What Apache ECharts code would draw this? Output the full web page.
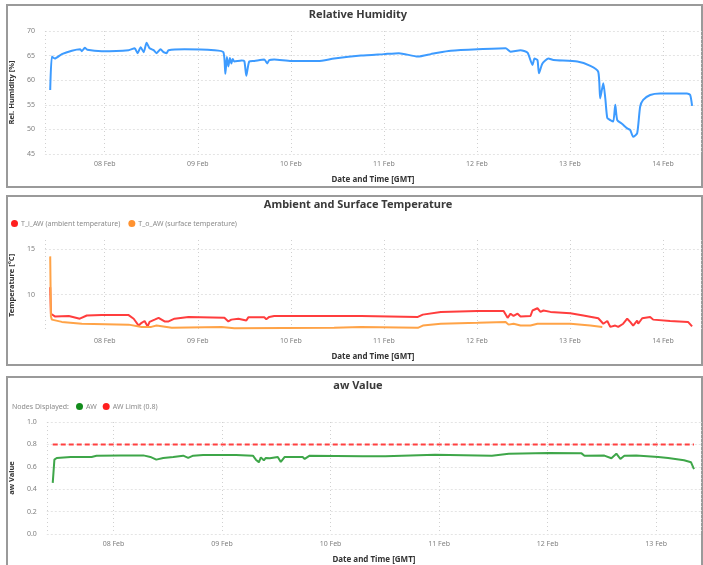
<!DOCTYPE html>
<html><head><meta charset="utf-8">
<script src="https://cdn.jsdelivr.net/npm/echarts@6/dist/echarts.min.js"></script>
<style>html,body{margin:0;padding:0;background:#fff}#c{width:703px;height:565px}</style>
</head><body><div id="c"></div>
<script>
// ---- Relative humidity (day-of-Feb HH:mm) ----
const rhTime = ['07 09:56','07 10:22','07 11:08','07 12:56','07 15:31','07 17:40','07 18:05','07 18:52','07 19:30','07 23:14','08 06:10','08 07:43','08 08:29','08 09:16','08 10:02','08 10:48','08 11:34','08 12:36','08 13:22','08 14:24','08 15:10','08 15:57','08 16:28','08 20:35','09 04:17','09 06:36','09 07:07','09 07:30','09 07:53','09 08:17','09 08:40','09 09:00','09 09:26','09 11:14','09 12:00','09 12:31','09 13:17','09 14:35','09 17:09','09 17:55','09 18:26','09 19:43','10 00:06','10 07:02','10 11:10','10 18:06','11 00:00','11 03:52','11 08:46','11 12:06','11 13:54','11 17:15','12 00:11','12 07:24','12 08:41','12 11:15','12 13:03','12 14:20','12 14:51','12 15:37','12 16:00','12 16:54','12 18:27','12 19:44','13 01:54','13 05:16','13 07:18','13 07:48','13 08:36','13 09:07','13 09:38','13 10:24','13 11:10','13 11:41','13 12:12','13 13:29','13 14:46','13 15:32','13 16:18','13 17:20','13 18:06','13 18:53','13 20:41','13 23:15','14 06:12','14 07:00','14 07:30'];
const rhValue = [58.0,64.8,64.4,65.3,66.0,66.3,65.9,66.6,66.2,65.9,66.1,66.5,65.5,66.7,65.7,67.6,66.5,66.1,65.5,66.3,65.7,65.5,66.1,66.3,66.1,65.7,61.3,64.7,62.8,64.5,63.4,64.3,63.8,64.0,63.9,60.9,63.8,63.9,64.2,63.4,64.1,64.2,63.9,63.9,64.4,65.0,65.3,65.5,64.8,65.3,65.6,66.0,66.3,66.5,65.8,66.1,65.6,63.1,64.4,64.1,61.4,63.4,64.4,64.1,63.8,62.9,61.7,56.3,59.4,56.3,52.3,51.9,51.6,55.0,51.9,51.1,50.2,49.9,48.5,49.2,54.6,56.0,57.0,57.3,57.3,57.0,54.8];

// ---- Ambient temperature T_i_AW ----
const tiTime = ['07 09:56','07 10:07','07 11:08','07 14:44','07 17:34','07 19:22','07 23:14','08 06:10','08 07:28','08 08:45','08 09:31','08 10:17','08 11:04','08 11:34','08 12:52','08 13:53','08 15:26','08 16:28','08 18:00','08 21:36','09 06:52','09 07:53','09 08:40','09 10:28','09 12:31','09 13:02','09 17:09','09 17:40','09 18:26','09 19:43','10 18:06','11 08:46','11 10:03','11 14:41','12 00:11','12 06:53','12 07:55','12 08:41','12 09:27','12 10:29','12 11:15','12 13:49','12 14:20','12 15:37','12 16:24','12 17:10','12 18:58','13 00:06','13 03:27','13 07:18','13 08:36','13 09:38','13 10:24','13 11:41','13 12:27','13 13:44','13 14:46','13 15:32','13 16:18','13 17:20','13 17:36','13 18:38','13 20:41','13 21:28','14 01:50','14 06:27','14 07:30'];
const tiValue = [10.8,7.9,7.6,7.65,7.35,7.7,7.75,7.75,7.35,6.6,6.9,7.1,6.5,7.0,7.25,7.45,7.05,7.05,7.35,7.55,7.45,7.05,7.25,7.35,7.15,7.5,7.5,7.3,7.55,7.65,7.65,7.55,7.8,8.1,8.2,8.2,7.45,7.9,7.65,7.9,7.6,7.65,8.25,8.5,8.1,8.25,8.1,7.95,7.7,7.4,6.8,7.1,6.45,6.6,6.45,6.8,7.35,7.0,6.6,7.15,6.8,7.4,7.55,7.25,7.1,7.0,6.5];

// ---- Surface temperature T_o_AW ----
const toTime = ['07 09:56','07 10:07','07 10:22','07 12:56','07 18:05','08 06:10','08 09:31','08 12:00','08 13:22','08 17:17','09 06:07','09 09:26','10 11:10','10 18:06','11 08:46','11 10:03','11 14:41','12 00:11','12 07:24','12 08:10','12 09:27','12 11:15','12 13:49','12 15:37','13 00:06','13 05:16','13 08:20'];
const toValue = [14.2,7.6,7.25,7.0,6.8,6.7,6.45,6.45,6.6,6.35,6.45,6.3,6.35,6.45,6.35,6.6,6.8,6.9,7.0,6.7,6.8,6.6,6.6,6.8,6.8,6.6,6.45];

// ---- aw value ----
const awTime = ['07 10:34','07 10:56','07 11:27','07 14:32','07 19:10','07 19:36','07 20:15','08 01:32','08 06:36','08 08:09','08 09:28','08 11:00','08 13:13','08 15:25','08 16:31','08 17:37','08 19:49','09 03:05','09 06:50','09 07:29','09 08:09','09 08:35','09 09:15','09 09:41','09 10:34','09 12:20','09 13:00','09 13:52','09 17:50','09 18:17','09 19:23','10 07:03','10 12:07','10 23:07','11 11:41','11 15:25','12 00:14','12 07:30','12 08:09','12 12:33','12 14:06','12 15:12','12 16:05','12 16:58','12 19:36','13 00:27','13 02:39','13 06:10','13 07:43','13 08:22'];
const awValue = [0.457,0.664,0.679,0.688,0.688,0.68,0.699,0.702,0.702,0.688,0.664,0.679,0.688,0.699,0.679,0.699,0.705,0.705,0.699,0.664,0.640,0.684,0.658,0.679,0.676,0.688,0.643,0.688,0.688,0.670,0.699,0.695,0.695,0.708,0.699,0.717,0.723,0.72,0.699,0.70,0.676,0.717,0.67,0.699,0.70,0.688,0.679,0.658,0.64,0.58];
const awLimitTime = ['07 10:34','13 08:22'];
const awLimitValue = [0.8,0.8];

// ---- axis settings ----
const rhTicks = [45,50,55,60,65,70];
const tempTicks = [10,15];
const awTicks = [0,0.2,0.4,0.6,0.8,1.0];
const xRange12 = ['07 08:34','14 09:48'];
const xRange3 = ['07 09:15','13 09:55'];

const MONTHS = ['Jan','Feb','Mar','Apr','May','Jun','Jul','Aug','Sep','Oct','Nov','Dec'];
function ts(s){const d=+s.slice(0,2),h=+s.slice(3,5),m=+s.slice(6,8);return new Date(2023,1,d,h,m).getTime();}
function pairs(t,v){return t.map((s,i)=>[ts(s),v[i]]);}
const FONT = '"Noto Sans", "Open Sans", sans-serif';
const DAY = 86400000;

function xAxis(idx, range){
  return {
    type:'time', gridIndex:idx, min:ts(range[0]), max:ts(range[1]),
    minInterval:DAY, maxInterval:DAY,
    axisLine:{show:false}, axisTick:{show:false},
    axisLabel:{fontSize:7, color:'#808080', fontFamily:FONT, margin:6, hideOverlap:false,
      showMinLabel:false, showMaxLabel:false,
      formatter:function(v){const d=new Date(v);return String(d.getDate()).padStart(2,'0')+' '+MONTHS[d.getMonth()];}},
    splitLine:{show:true, lineStyle:{color:'#d0d0d0', type:[1,3], width:1}},
    name:'Date and Time [GMT]', nameLocation:'middle', nameGap:22,
    nameTextStyle:{fontSize:8, fontWeight:'bold', color:'#333', fontFamily:FONT}
  };
}
function yName(n){return {name:n, nameLocation:'middle', nameGap:23, nameTextStyle:{fontSize:7.5, fontWeight:'bold', color:'#333', fontFamily:FONT}};}
const yLabel = {fontSize:7, color:'#808080', fontFamily:FONT, margin:10};
const ySplit = {show:true, lineStyle:{color:'#e4e4e4', type:[2,2], width:1}};
const titleStyle = {fontSize:11, fontWeight:'bold', color:'#3a3a3a', fontFamily:FONT};

const option = {
  animation:false,
  textStyle:{fontFamily:FONT},
  graphic:[
    {type:'rect', shape:{x:7,y:5,width:695,height:182}, style:{fill:'none', stroke:'#9a9a9a', lineWidth:2}},
    {type:'rect', shape:{x:7,y:196,width:695,height:169}, style:{fill:'none', stroke:'#9a9a9a', lineWidth:2}},
    {type:'rect', shape:{x:7,y:377,width:695,height:200}, style:{fill:'none', stroke:'#9a9a9a', lineWidth:2}},
    {type:'text', left:12, top:403, style:{text:'Nodes Displayed:', fontSize:7, fill:'#8a8a8a', fontFamily:FONT}}
  ],
  title:[
    {text:'Relative Humidity', left:358, top:9, padding:[0,0,0,0], textAlign:'center', textStyle:titleStyle},
    {text:'Ambient and Surface Temperature', left:358, top:199, padding:[0,0,0,0], textAlign:'center', textStyle:titleStyle},
    {text:'aw Value', left:358, top:380, padding:[0,0,0,0], textAlign:'center', textStyle:titleStyle}
  ],
  legend:[
    {left:11, top:220, padding:0, icon:'circle', itemWidth:7, itemHeight:7, itemGap:8,
      textStyle:{fontSize:7, color:'#8a8a8a', fontFamily:FONT, padding:[0,0,0,-2]},
      data:['T_i_AW (ambient temperature)','T_o_AW (surface temperature)']},
    {left:76, top:403, padding:0, icon:'circle', itemWidth:7, itemHeight:7, itemGap:6,
      textStyle:{fontSize:7, color:'#8a8a8a', fontFamily:FONT, padding:[0,0,0,-2]},
      data:['AW','AW Limit (0.8)']}
  ],
  grid:[
    {left:43, right:2, top:31, height:123},
    {left:43, right:2, top:240, height:91},
    {left:43, right:2, top:422, height:113}
  ],
  xAxis:[xAxis(0,xRange12), xAxis(1,xRange12), xAxis(2,xRange3)],
  yAxis:[
    Object.assign({type:'value', gridIndex:0, min:rhTicks[0], max:rhTicks[rhTicks.length-1], interval:5,
      axisLine:{show:false}, axisTick:{show:false}, axisLabel:yLabel, splitLine:ySplit}, yName('Rel. Humidity [%]')),
    Object.assign({type:'value', gridIndex:1, min:6, max:16,
      axisLine:{show:false}, axisTick:{show:false, customValues:tempTicks},
      axisLabel:Object.assign({customValues:tempTicks}, yLabel), splitLine:ySplit}, yName('Temperature [°C]')),
    Object.assign({type:'value', gridIndex:2, min:awTicks[0], max:awTicks[awTicks.length-1], interval:0.2,
      axisLine:{show:false}, axisTick:{show:false},
      axisLabel:Object.assign({formatter:v=>v.toFixed(1)}, yLabel), splitLine:ySplit}, yName('aw Value'))
  ],
  series:[
    {type:'line', name:'Relative Humidity', xAxisIndex:0, yAxisIndex:0, data:pairs(rhTime,rhValue), showSymbol:false, smooth:0.2,
      lineStyle:{color:'#3d9bff', width:2}, itemStyle:{color:'#3d9bff'}},
    {type:'line', name:'T_i_AW (ambient temperature)', xAxisIndex:1, yAxisIndex:1, data:pairs(tiTime,tiValue), showSymbol:false,
      lineStyle:{color:'#ff3d3d', width:2}, itemStyle:{color:'#ff1f1f'}},
    {type:'line', name:'T_o_AW (surface temperature)', xAxisIndex:1, yAxisIndex:1, data:pairs(toTime,toValue), showSymbol:false,
      lineStyle:{color:'#ffa347', width:2}, itemStyle:{color:'#ff9230'}},
    {type:'line', name:'AW', xAxisIndex:2, yAxisIndex:2, data:pairs(awTime,awValue), showSymbol:false,
      lineStyle:{color:'#3ea649', width:2}, itemStyle:{color:'#128c1c'}},
    {type:'line', name:'AW Limit (0.8)', xAxisIndex:2, yAxisIndex:2, data:pairs(awLimitTime,awLimitValue), showSymbol:false,
      lineStyle:{color:'#ff4040', width:2, type:[5,3]}, itemStyle:{color:'#ff1f1f'}}
  ]
};
const chart = echarts.init(document.getElementById('c'), null, {renderer:'canvas'});
chart.setOption(option);
</script></body></html>
